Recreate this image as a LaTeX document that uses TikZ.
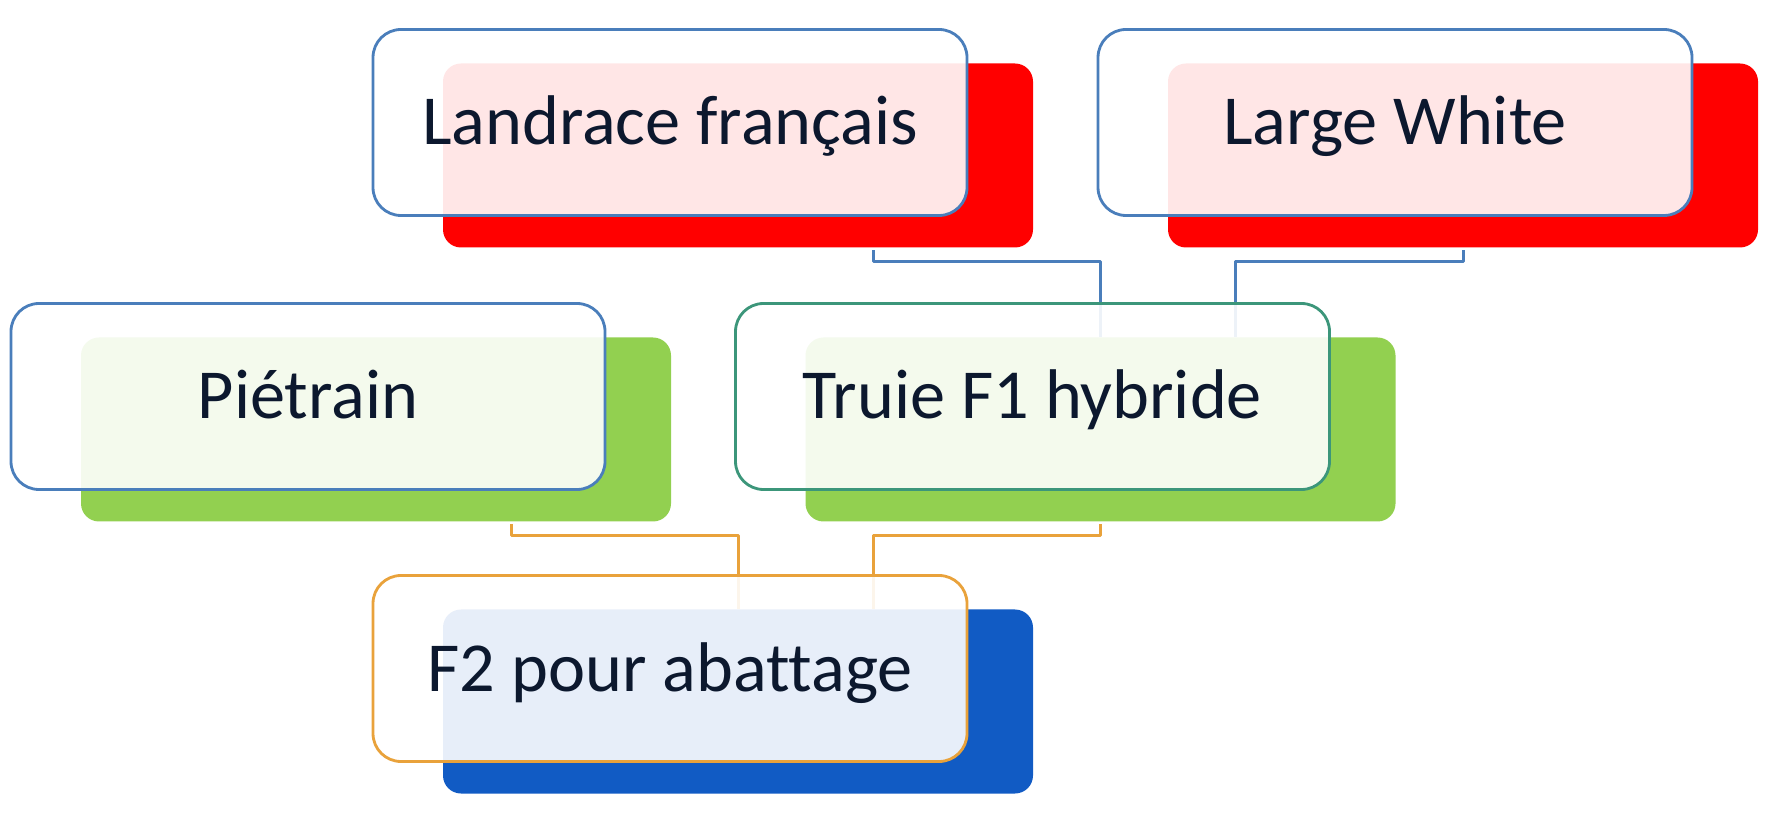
\documentclass[tikz,border=0pt]{standalone}
\usepackage{fontspec}
\setmainfont[Ligatures=NoCommon]{Carlito}
\usetikzlibrary{calc}

\definecolor{edgeblue}{HTML}{4A7EBB}
\definecolor{edgegreen}{HTML}{3C967A}
\definecolor{edgeorange}{HTML}{E9A23B}
\definecolor{plategreen}{HTML}{92D050}
\definecolor{plateblue}{HTML}{115BC4}
\definecolor{ink}{HTML}{0C182E}

\begin{document}
\begin{tikzpicture}[line join=round,
    back/.style={rounded corners=0.18cm, minimum width=5.9cm, minimum height=1.84cm, inner sep=0pt},
    front/.style={draw, line width=0.8pt, rounded corners=0.28cm, fill=white, fill opacity=0.9, text opacity=1,
                  minimum width=5.94cm, minimum height=1.86cm, inner sep=0pt, text height=0.45cm, text depth=0pt,
                  font=\fontsize{20}{24}\selectfont, text=ink},
    toplink/.style={line width=0.85pt, edgeblue},
    botlink/.style={line width=0.85pt, edgeorange}]
  \useasboundingbox (0,0) rectangle (17.79,8.17);
  % ---------------- box centres ----------------
  \coordinate (lf) at (6.70,6.945);
  \coordinate (lw) at (13.95,6.945);
  \coordinate (pt) at (3.08,4.205);
  \coordinate (tf) at (10.325,4.205);
  \coordinate (f2) at (6.70,1.485);
  % ---------------- coloured plates behind ----------------
  \foreach \nm/\col in {lf/red, lw/red, pt/plategreen, tf/plategreen, f2/plateblue} {
     \node[back, fill=\col] (\nm-back) at ($(\nm)+(0.68,-0.33)$) {};
  }
  % ---------------- connectors ----------------
  \draw[toplink] ($(lf-back.south)+(1.35,-0.02)$) -- ++(0,-0.11) -| (tf-back.north);
  \draw[toplink] ($(lw-back.south)+(0,-0.02)$) -- ++(0,-0.11) -| ($(tf-back.north)+(1.35,0)$);
  \draw[botlink] ($(pt-back.south)+(1.35,-0.02)$) -- ++(0,-0.11) -| (f2-back.north);
  \draw[botlink] ($(tf-back.south)+(0,-0.02)$) -- ++(0,-0.11) -| ($(f2-back.north)+(1.35,0)$);
  % ---------------- framed boxes with the breeds ----------------
  \foreach \nm/\col/\txt in {lf/edgeblue/Landrace français, lw/edgeblue/Large White,
                            pt/edgeblue/Piétrain, tf/edgegreen/Truie F1 hybride,
                            f2/edgeorange/F2 pour abattage} {
     \node[front, draw=\col] (\nm-box) at (\nm) {\txt};
  }
\end{tikzpicture}
\end{document}
